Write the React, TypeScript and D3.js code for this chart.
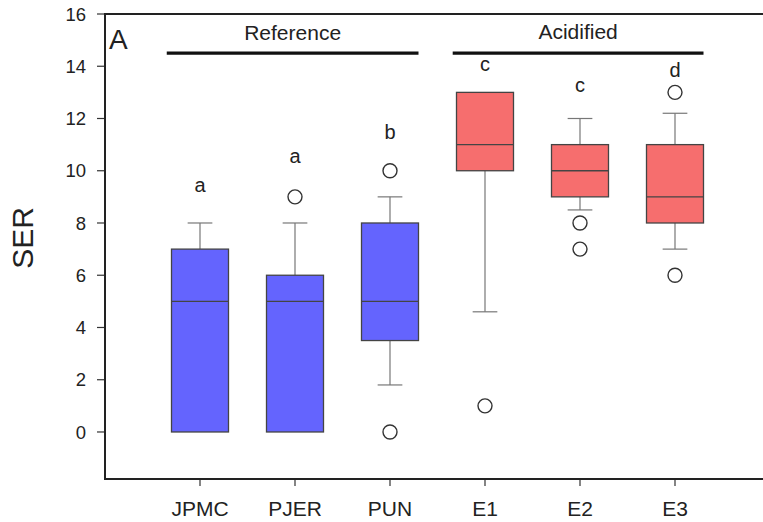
import React from "react";
import * as d3 from "d3";

const categories = ["JPMC", "PJER", "PUN", "E1", "E2", "E3"];
const groupOf = ["Reference", "Reference", "Reference", "Acidified", "Acidified", "Acidified"];
const q1 = [0, 0, 3.5, 10, 9, 8];
const median = [5, 5, 5, 11, 10, 9];
const q3 = [7, 6, 8, 13, 11, 11];
const whiskerLow = [0, 0, 1.8, 4.6, 8.5, 7];
const whiskerHigh = [8, 8, 9, 13, 12, 12.2];
const outliers: number[][] = [[], [9], [10, 0], [1], [8, 7], [13, 6]];
const letters = ["a", "a", "b", "c", "c", "d"];
const letterY = [9.2, 10.3, 11.2, 13.8, 13.0, 13.6];
const yTicks = [0, 2, 4, 6, 8, 10, 12, 14, 16];
const groups = ["Reference", "Acidified"];
const groupSpan = [[0.65, 3.3], [3.66, 6.3]];
const groupLineY = 14.5;

const W = 763;
const H = 522;

export default function App() {
  const x = d3.scaleLinear().domain([0, 7]).range([105, 770]);
  const y = d3.scaleLinear().domain([-1.8, 16]).range([479, 14]);
  const boxHalf = 0.3;
  const capHalf = 0.13;
  const font = "'Liberation Sans', Arial, sans-serif";
  const colors: Record<string, string> = { Reference: "#6464fe", Acidified: "#f66e6e" };

  return (
    <svg width={W} height={H} style={{ position: "absolute", left: 0, top: 0, background: "#fff" }} fontFamily={font}>
      {/* y ticks */}
      {yTicks.map((t) => (
        <g key={t}>
          <line x1={97} x2={105} y1={y(t)} y2={y(t)} stroke="#333" strokeWidth={1.2} />
          <text x={86} y={y(t)} dy="0.36em" textAnchor="end" fontSize={18.5} fill="#222">{t}</text>
        </g>
      ))}
      {/* x ticks */}
      {categories.map((c, i) => (
        <g key={c}>
          <line x1={x(i + 1)} x2={x(i + 1)} y1={479} y2={486} stroke="#333" strokeWidth={1.2} />
          <text x={x(i + 1)} y={516} textAnchor="middle" fontSize={21} fill="#222">{c}</text>
        </g>
      ))}
      {/* frame lines */}
      <line x1={105} x2={W} y1={y(16)} y2={y(16)} stroke="#222" strokeWidth={2} />
      <line x1={105} x2={W} y1={479} y2={479} stroke="#222" strokeWidth={2} />
      <line x1={105} x2={105} y1={y(16) - 1} y2={480} stroke="#222" strokeWidth={2} />

      {/* boxes */}
      {categories.map((c, i) => {
        const cx = x(i + 1);
        const bl = x(i + 1 - boxHalf);
        const br = x(i + 1 + boxHalf);
        const cl = x(i + 1 - capHalf);
        const cr = x(i + 1 + capHalf);
        return (
          <g key={c}>
            {whiskerHigh[i] > q3[i] && (
              <g>
                <line x1={cx} x2={cx} y1={y(q3[i])} y2={y(whiskerHigh[i])} stroke="#777" strokeWidth={1.2} />
                <line x1={cl} x2={cr} y1={y(whiskerHigh[i])} y2={y(whiskerHigh[i])} stroke="#777" strokeWidth={1.2} />
              </g>
            )}
            {whiskerLow[i] < q1[i] && (
              <g>
                <line x1={cx} x2={cx} y1={y(q1[i])} y2={y(whiskerLow[i])} stroke="#777" strokeWidth={1.2} />
                <line x1={cl} x2={cr} y1={y(whiskerLow[i])} y2={y(whiskerLow[i])} stroke="#777" strokeWidth={1.2} />
              </g>
            )}
            <rect x={bl} y={y(q3[i])} width={br - bl} height={y(q1[i]) - y(q3[i])} fill={colors[groupOf[i]]} stroke="#444" strokeWidth={1.3} />
            <line x1={bl} x2={br} y1={y(median[i])} y2={y(median[i])} stroke="#444" strokeWidth={1.3} />
            {outliers[i].map((o, k) => (
              <circle key={k} cx={cx} cy={y(o)} r={7} fill="#fff" stroke="#333" strokeWidth={1.4} />
            ))}
            <text x={cx} y={y(letterY[i])} textAnchor="middle" fontSize={20} fill="#222">{letters[i]}</text>
          </g>
        );
      })}

      {/* group lines */}
      {groups.map((g, k) => (
        <g key={g}>
          <line x1={x(groupSpan[k][0])} x2={x(groupSpan[k][1])} y1={y(groupLineY)} y2={y(groupLineY)} stroke="#111" strokeWidth={3.2} />
          <text x={(x(groupSpan[k][0]) + x(groupSpan[k][1])) / 2} y={k === 0 ? 40 : 38.5} textAnchor="middle" fontSize={21} fill="#222">{g}</text>
        </g>
      ))}

      <text x={109} y={49} fontSize={28} fill="#222">A</text>
      <text transform="translate(33,238) rotate(-90)" textAnchor="middle" fontSize={30} fill="#222">SER</text>
    </svg>
  );
}
